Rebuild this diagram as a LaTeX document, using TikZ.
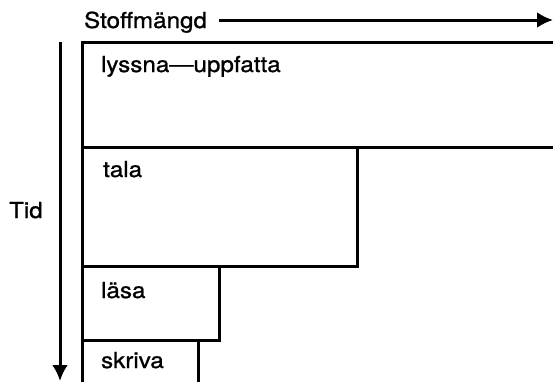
\documentclass[tikz,border=0pt]{standalone}
\usepackage{fontspec}
\setmainfont{TeX Gyre Heros}[FakeStretch=1.1,FakeBold=1]
\usetikzlibrary{arrows.meta}
\begin{document}
\begin{tikzpicture}[x=1pt,y=-1pt, line width=2.2pt,
  lbl/.style={anchor=base west, inner sep=0pt, font=\fontsize{22}{26}\selectfont},
  arr/.style={line width=3pt,-{Latex[length=16pt,width=16pt]}},
  boxline/.style={line width=3pt}]
\useasboundingbox (0,0) rectangle (553,381);
\clip (0,0) rectangle (553,381);
% labels
\node[lbl] (stoff) at (83,28) {Stoffmängd};
\node[lbl] (tid) at (8,218) {Tid};
\node[lbl] (lys) at (100,72) {lyssna---uppfatta};
\node[lbl] (tala) at (102,177) {tala};
\node[lbl] (lasa) at (100,298) {läsa};
\node[lbl] (skriva) at (100,368) {skriva};
% arrows
\coordinate (hs) at (219,20);
\coordinate (he) at (553,20);
\coordinate (vs) at (60,42);
\coordinate (ve) at (60,381);
\draw[arr] (hs) -- (he);
\draw[arr] (vs) -- (ve);
% boxes
\draw[boxline] (600,42) -- (82,42) -- (82,400);
\draw[boxline] (82,147) -- (600,147);
\draw[boxline] (357,147) -- (357,266) -- (82,266);
\draw[boxline] (219,266) -- (219,340) -- (82,340);
\draw[boxline] (198,340) -- (198,400);
\end{tikzpicture}
\end{document}
